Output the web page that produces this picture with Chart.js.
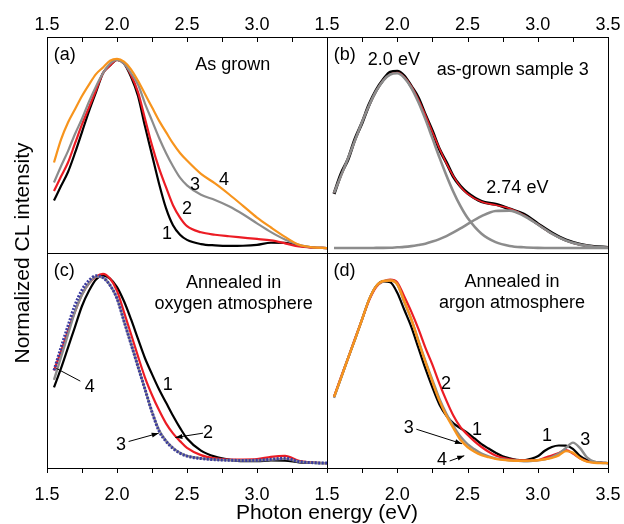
<!DOCTYPE html>
<html>
<head>
<meta charset="utf-8">
<script src="https://cdn.jsdelivr.net/npm/chart.js@4.4.1/dist/chart.umd.min.js"></script>
<style>
  body { margin: 0; background: #fff; width: 624px; height: 524px; position: relative; overflow: hidden;
         font-family: "Liberation Sans", Arial, sans-serif; }
  canvas { position: absolute; }
  .title { position: absolute; font-size: 21px; line-height: 24px; color: #000; white-space: nowrap; text-align: center; }
</style>
</head>
<body>
<canvas id="pa" width="340" height="256" style="left:0;top:0"></canvas>
<canvas id="pb" width="350" height="256" style="left:300px;top:0"></canvas>
<canvas id="pc" width="340" height="274" style="left:0;top:250px"></canvas>
<canvas id="pd" width="350" height="274" style="left:300px;top:250px"></canvas>
<div class="title" style="left:127px;top:500px;width:400px">Photon energy (eV)</div>
<div class="title" style="left:-128px;top:241px;width:300px;transform:rotate(-90deg)">Normalized CL intensity</div>
<script>
// Photon energy grids (eV)
const energyABC = [1.55, 1.6, 1.65, 1.7, 1.75, 1.8, 1.85, 1.9, 1.95, 2.0, 2.05, 2.1, 2.15, 2.2, 2.25,
  2.3, 2.35, 2.4, 2.45, 2.5, 2.6, 2.7, 2.8, 2.9, 3.0, 3.1, 3.2, 3.3, 3.4, 3.5];
const energyD = [1.55, 1.6, 1.65, 1.7, 1.75, 1.8, 1.85, 1.9, 1.95, 2.0, 2.05, 2.1, 2.15, 2.2, 2.25,
  2.3, 2.35, 2.4, 2.45, 2.5, 2.55, 2.6, 2.65, 2.7, 2.75, 2.8, 2.85, 2.9, 2.95, 3.0, 3.05, 3.1, 3.15,
  3.2, 3.25, 3.3, 3.35, 3.4, 3.45, 3.5];

// (a) as grown, samples 1-4
const asGrown1 = [0.25, 0.326, 0.40, 0.50, 0.61, 0.72, 0.82, 0.92, 0.96, 0.99, 0.97, 0.90, 0.80, 0.64, 0.49,
  0.34, 0.21, 0.12, 0.07, 0.043, 0.021, 0.014, 0.011, 0.012, 0.017, 0.028, 0.027, 0.013, 0.003, 0];
const asGrown2 = [0.30, 0.376, 0.45, 0.55, 0.65, 0.74, 0.83, 0.92, 0.96, 0.99, 0.97, 0.91, 0.82, 0.68, 0.54,
  0.42, 0.32, 0.225, 0.16, 0.115, 0.083, 0.07, 0.062, 0.055, 0.048, 0.04, 0.025, 0.008, 0.002, 0];
const asGrown3 = [0.345, 0.43, 0.51, 0.60, 0.68, 0.77, 0.85, 0.92, 0.97, 0.99, 0.97, 0.92, 0.86, 0.76, 0.67,
  0.58, 0.50, 0.43, 0.37, 0.33, 0.28, 0.253, 0.22, 0.178, 0.13, 0.084, 0.045, 0.017, 0.003, 0];
const asGrown4 = [0.45, 0.57, 0.66, 0.73, 0.80, 0.86, 0.915, 0.95, 0.985, 0.995, 0.98, 0.94, 0.88, 0.81, 0.74,
  0.67, 0.61, 0.55, 0.50, 0.46, 0.39, 0.34, 0.283, 0.222, 0.16, 0.108, 0.059, 0.017, 0.004, 0];

// (b) sample 3 decomposition
const sample3Data = [0.285, 0.39, 0.468, 0.575, 0.66, 0.755, 0.83, 0.885, 0.925, 0.93, 0.905, 0.85, 0.79, 0.70, 0.615,
  0.52, 0.45, 0.375, 0.325, 0.29, 0.245, 0.23, 0.205, 0.178, 0.128, 0.08, 0.042, 0.02, 0.008, 0.003];
const sample3Fit = [0.29, 0.381, 0.472, 0.568, 0.663, 0.751, 0.826, 0.882, 0.915, 0.923, 0.901, 0.853, 0.784, 0.701, 0.612,
  0.524, 0.445, 0.377, 0.323, 0.285, 0.243, 0.226, 0.208, 0.174, 0.125, 0.076, 0.040, 0.018, 0.007, 0.002];
const band200 = [0.29, 0.381, 0.472, 0.568, 0.663, 0.751, 0.826, 0.881, 0.913, 0.919, 0.895, 0.843, 0.768, 0.678, 0.578,
  0.477, 0.382, 0.295, 0.220, 0.159, 0.075, 0.031, 0.011, 0.004, 0.001, 0, 0, 0, 0, 0];
const band274 = [0, 0, 0, 0, 0, 0, 0.0007, 0.001, 0.002, 0.004, 0.006, 0.010, 0.016, 0.023, 0.034,
  0.047, 0.063, 0.082, 0.103, 0.126, 0.168, 0.195, 0.197, 0.170, 0.124, 0.076, 0.040, 0.018, 0.007, 0.002];

// (c) annealed in oxygen
const oxygen1 = [0.40, 0.50, 0.61, 0.72, 0.83, 0.91, 0.97, 0.99, 0.975, 0.93, 0.855, 0.76, 0.656, 0.554, 0.47,
  0.39, 0.32, 0.25, 0.186, 0.13, 0.066, 0.034, 0.018, 0.01, 0.01, 0.014, 0.013, 0.004, 0.001, 0];
const oxygen2 = [0.49, 0.59, 0.70, 0.80, 0.89, 0.95, 0.985, 1.0, 0.975, 0.91, 0.798, 0.682, 0.564, 0.452, 0.36,
  0.28, 0.21, 0.157, 0.116, 0.08, 0.042, 0.025, 0.019, 0.019, 0.021, 0.033, 0.038, 0.012, 0.002, 0];
const oxygen3 = [0.49, 0.61, 0.725, 0.835, 0.915, 0.965, 0.99, 0.98, 0.94, 0.87, 0.75, 0.63, 0.51, 0.39, 0.27,
  0.17, 0.115, 0.078, 0.052, 0.037, 0.024, 0.018, 0.015, 0.014, 0.015, 0.02, 0.026, 0.008, 0.002, 0];
const oxygen4 = [0.44, 0.56, 0.68, 0.80, 0.89, 0.95, 0.985, 0.98, 0.94, 0.87, 0.75, 0.63, 0.51, 0.39, 0.27,
  0.175, 0.118, 0.08, 0.054, 0.038, 0.025, 0.018, 0.015, 0.014, 0.014, 0.018, 0.022, 0.007, 0.002, 0];

// (d) annealed in argon
const argon1 = [0.35, 0.45, 0.555, 0.655, 0.76, 0.865, 0.935, 0.96, 0.955, 0.90, 0.81, 0.72, 0.61, 0.50, 0.40,
  0.31, 0.25, 0.21, 0.184, 0.16, 0.13, 0.10, 0.077, 0.055, 0.036, 0.025, 0.017, 0.015, 0.022, 0.036,
  0.065, 0.085, 0.093, 0.092, 0.075, 0.038, 0.016, 0.006, 0.002, 0];
const argon2 = [0.35, 0.455, 0.555, 0.66, 0.76, 0.86, 0.93, 0.96, 0.97, 0.955, 0.88, 0.80, 0.71, 0.61, 0.52,
  0.42, 0.33, 0.25, 0.19, 0.15, 0.115, 0.085, 0.06, 0.04, 0.028, 0.02, 0.016, 0.014, 0.014, 0.015,
  0.028, 0.04, 0.053, 0.068, 0.05, 0.026, 0.01, 0.003, 0.001, 0];
const argon3 = [0.345, 0.45, 0.555, 0.655, 0.76, 0.865, 0.935, 0.96, 0.965, 0.945, 0.85, 0.76, 0.65, 0.54, 0.44,
  0.34, 0.26, 0.195, 0.14, 0.10, 0.073, 0.05, 0.035, 0.025, 0.019, 0.015, 0.012, 0.01, 0.011, 0.014,
  0.02, 0.032, 0.05, 0.08, 0.108, 0.08, 0.03, 0.008, 0.002, 0];
const argon4 = [0.35, 0.45, 0.555, 0.655, 0.76, 0.865, 0.935, 0.962, 0.965, 0.945, 0.855, 0.76, 0.645, 0.535, 0.43,
  0.33, 0.25, 0.185, 0.123, 0.085, 0.06, 0.042, 0.031, 0.022, 0.017, 0.014, 0.012, 0.012, 0.013, 0.015,
  0.02, 0.028, 0.041, 0.063, 0.055, 0.025, 0.008, 0.002, 0, 0];

const BLACK = '#000000', RED = '#ec1c24', ORANGE = '#f7941d', GRAY = '#8c8c8c', BLUE = '#3c3ca0';
const FONT = '"Liberation Sans", Arial, sans-serif';
Chart.defaults.font.family = FONT;
Chart.defaults.color = '#000';

const pts = (xs, ys) => xs.map((e, i) => ({ x: e, y: ys[i] }));

function line(xs, ys, color, width, extra) {
  return Object.assign({
    data: pts(xs, ys), borderColor: color, borderWidth: width, pointRadius: 0,
    cubicInterpolationMode: 'monotone', fill: false
  }, extra || {});
}

// label text for a tick: only every 0.5 eV, optionally without the last one
function tickText(v, hideLast) {
  if (Math.abs(v * 2 - Math.round(v * 2)) > 1e-6) return '';
  if (hideLast && v > 3.4) return '';
  return v.toFixed(1);
}

// Draws the panel frame, ticks, top tick labels, in-panel labels and arrows.
function panelPlugin(top, hideLast, notes, arrows) {
  return {
    id: 'panel',
    afterDraw(chart) {
      const { ctx, chartArea: a, scales: { x, y } } = chart;
      ctx.save();
      ctx.strokeStyle = '#000';
      ctx.fillStyle = '#000';
      ctx.lineWidth = 1;
      ctx.strokeRect(a.left + 0.5, a.top + 0.5, a.right - a.left, a.bottom - a.top);
      ctx.font = '18px ' + FONT;
      ctx.textBaseline = 'middle';
      ctx.textAlign = 'center';
      x.ticks.forEach(t => {
        const px = Math.round(x.getPixelForValue(t.value)) + 0.5;
        ctx.beginPath();
        if (top) { ctx.moveTo(px, a.top); ctx.lineTo(px, a.top + 5); }
        else { ctx.moveTo(px, a.bottom); ctx.lineTo(px, a.bottom + 5); }
        ctx.stroke();
        if (top) ctx.fillText(tickText(t.value, hideLast), x.getPixelForValue(t.value), a.top - 12);
      });
      notes.forEach(n => {
        ctx.textAlign = n.align || 'center';
        ctx.fillText(n.t, x.getPixelForValue(n.x), y.getPixelForValue(n.y));
      });
      arrows.forEach(l => {
        const x1 = x.getPixelForValue(l.x1), y1 = y.getPixelForValue(l.y1);
        const x2 = x.getPixelForValue(l.x2), y2 = y.getPixelForValue(l.y2);
        ctx.beginPath(); ctx.moveTo(x1, y1); ctx.lineTo(x2, y2); ctx.stroke();
        if (l.head) {
          const ang = Math.atan2(y2 - y1, x2 - x1);
          ctx.beginPath();
          ctx.moveTo(x2, y2);
          ctx.lineTo(x2 - 7 * Math.cos(ang) + 2.5 * Math.sin(ang), y2 - 7 * Math.sin(ang) - 2.5 * Math.cos(ang));
          ctx.lineTo(x2 - 7 * Math.cos(ang) - 2.5 * Math.sin(ang), y2 - 7 * Math.sin(ang) + 2.5 * Math.cos(ang));
          ctx.closePath(); ctx.fill();
        }
      });
      ctx.restore();
    }
  };
}

function makePanel(id, top, hideLast, padding, datasets, notes, arrows) {
  new Chart(document.getElementById(id), {
    type: 'line',
    data: { datasets },
    options: {
      responsive: false, animation: false, events: [],
      layout: { padding },
      plugins: { legend: { display: false }, tooltip: { enabled: false } },
      scales: {
        x: {
          type: 'linear', min: 1.5, max: 3.5, position: top ? 'top' : 'bottom',
          grid: { display: false }, border: { display: false },
          ticks: {
            display: !top,
            stepSize: 0.25, autoSkip: false, maxRotation: 0, padding: 8,
            font: { size: 18 }, color: '#000',
            callback: v => tickText(v, hideLast)
          },
          afterFit: s => { s.height = top ? 37 : 56; }
        },
        y: { display: false, min: -0.026, max: 1.11 }
      }
    },
    plugins: [panelPlugin(top, hideLast, notes, arrows)]
  });
}

makePanel('pa', true, true, { left: 47, right: 13, top: 0, bottom: 3 }, [
  line(energyABC, asGrown4, ORANGE, 2.2),
  line(energyABC, asGrown3, GRAY, 2.2),
  line(energyABC, asGrown2, RED, 2.2),
  line(energyABC, asGrown1, BLACK, 2.2)
], [
  { t: '(a)', x: 1.548, y: 1.014, align: 'left' },
  { t: 'As grown', x: 2.559, y: 0.962, align: 'left' },
  { t: '1', x: 2.357, y: 0.074 }, { t: '2', x: 2.5, y: 0.205 },
  { t: '3', x: 2.557, y: 0.33 }, { t: '4', x: 2.764, y: 0.358 }
], []);

makePanel('pb', true, false, { left: 27, right: 42, top: 0, bottom: 3 }, [
  line(energyABC, band274, GRAY, 2.6),
  line(energyABC, band200, GRAY, 2.6),
  line(energyABC, sample3Fit, RED, 1.6),
  line(energyABC, sample3Data, BLACK, 3.2)
], [
  { t: '(b)', x: 1.548, y: 1.014, align: 'left' },
  { t: '2.0 eV', x: 1.976, y: 0.991 },
  { t: 'as-grown sample 3', x: 2.822, y: 0.935 },
  { t: '2.74 eV', x: 2.855, y: 0.317 }
], []);

makePanel('pc', false, true, { left: 47, right: 13, top: 3, bottom: 0 }, [
  line(energyABC, oxygen3, BLUE, 3, { borderDash: [2, 1.5] }),
  line(energyABC, oxygen4, GRAY, 2.4),
  line(energyABC, oxygen2, RED, 2.2),
  line(energyABC, oxygen1, BLACK, 2.2)
], [
  { t: '(c)', x: 1.548, y: 1.017, align: 'left' },
  { t: 'Annealed in', x: 2.833, y: 0.951 },
  { t: 'oxygen atmosphere', x: 2.833, y: 0.838 },
  { t: '1', x: 2.362, y: 0.412 }, { t: '2', x: 2.65, y: 0.158 },
  { t: '3', x: 2.029, y: 0.096 }, { t: '4', x: 1.805, y: 0.404 }
], [
  { x1: 1.738, y1: 0.433, x2: 1.567, y2: 0.5 },
  { x1: 2.083, y1: 0.114, x2: 2.298, y2: 0.158, head: true },
  { x1: 2.614, y1: 0.158, x2: 2.417, y2: 0.135, head: true }
]);

makePanel('pd', false, false, { left: 27, right: 42, top: 3, bottom: 0 }, [
  line(energyD, argon4, ORANGE, 2.4),
  line(energyD, argon3, GRAY, 2.4),
  line(energyD, argon2, RED, 2.2),
  line(energyD, argon1, BLACK, 2.2)
], [
  { t: '(d)', x: 1.547, y: 1.017, align: 'left' },
  { t: 'Annealed in', x: 2.817, y: 0.956 },
  { t: 'argon atmosphere', x: 2.817, y: 0.846 },
  { t: '2', x: 2.347, y: 0.418 }, { t: '1', x: 2.568, y: 0.172 },
  { t: '3', x: 2.081, y: 0.184 }, { t: '4', x: 2.319, y: 0.014 },
  { t: '1', x: 3.066, y: 0.144 }, { t: '3', x: 3.339, y: 0.123 }
], [
  { x1: 2.136, y1: 0.179, x2: 2.461, y2: 0.102, head: true },
  { x1: 2.373, y1: 0.011, x2: 2.477, y2: 0.039, head: true }
]);
</script>
</body>
</html>
